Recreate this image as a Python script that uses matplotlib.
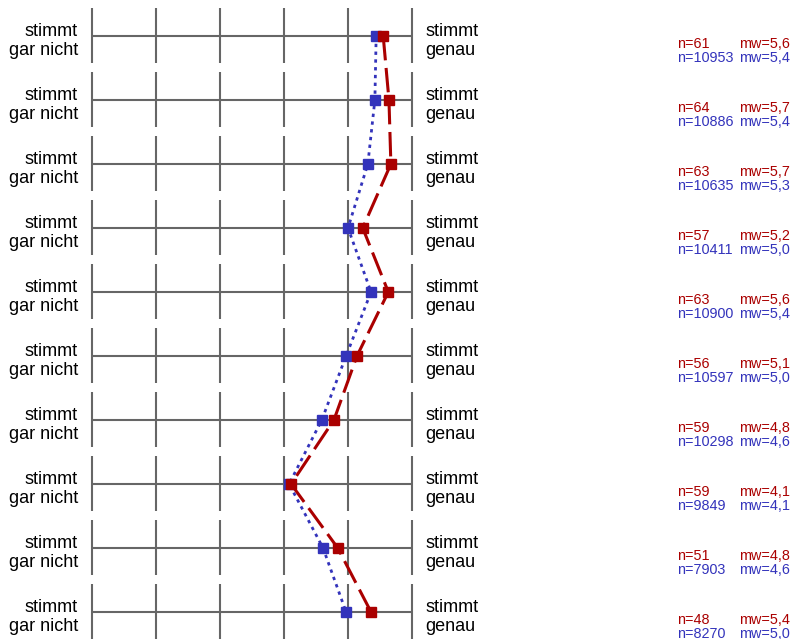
import matplotlib.pyplot as plt

# Werte (Skala 1..6)
mw_gruppe = [5.55, 5.64, 5.67, 5.23, 5.63, 5.14, 4.78, 4.11, 4.84, 5.36]
mw_alle = [5.44, 5.42, 5.31, 5.00, 5.36, 4.97, 4.59, 4.08, 4.61, 4.97]
n_gruppe = ['61', '64', '63', '57', '63', '56', '59', '59', '51', '48']
n_alle = ['10953', '10886', '10635', '10411', '10900', '10597', '10298', '9849', '7903', '8270']
mw_txt_gruppe = ['5,6', '5,7', '5,7', '5,2', '5,6', '5,1', '4,8', '4,1', '4,8', '5,4']
mw_txt_alle = ['5,4', '5,4', '5,3', '5,0', '5,4', '5,0', '4,6', '4,1', '4,6', '5,0']
links = ['stimmt', 'gar nicht']
rechts = ['stimmt', 'genau']

rot = '#aa0000'
blau = '#3333bb'
grau = '#666666'

plt.rcParams['font.family'] = ['Liberation Sans', 'DejaVu Sans']

W, H = 795, 639
fig = plt.figure(figsize=(W / 100, H / 100), dpi=100)
ax = fig.add_axes([92 / W, 0, 320 / W, 1])
ax.set_xlim(1, 6)
ax.set_ylim((H - 36) / 64, -36 / 64)
ax.axis('off')

px = 1 / 64  # ein Pixel in Datenkoordinaten
rows = list(range(len(mw_gruppe)))
for i in rows:
    ax.hlines(i, 1, 6, color=grau, lw=1.5, clip_on=False)
    ax.vlines(range(1, 7), i - 28 * px, i + 27 * px, color=grau, lw=1.5, clip_on=False)
    for k, (l, r) in enumerate(zip(links, rechts)):
        y = i + (0.5 + 18.5 * k) * px
        ax.text(1 - 14 * px, y, l, ha='right', va='baseline', fontsize=13, clip_on=False)
        ax.text(6 + 13 * px, y, r, ha='left', va='baseline', fontsize=13, clip_on=False)
    ax.text(1 + 585 * px, i + 11.5 * px, 'n=' + n_gruppe[i], color=rot,
            va='baseline', fontsize=10.4, clip_on=False)
    ax.text(1 + 647 * px, i + 11.5 * px, 'mw=' + mw_txt_gruppe[i], color=rot,
            va='baseline', fontsize=10.4, clip_on=False)
    ax.text(1 + 585 * px, i + 26.5 * px, 'n=' + n_alle[i], color=blau,
            va='baseline', fontsize=10.4, clip_on=False)
    ax.text(1 + 647 * px, i + 26.5 * px, 'mw=' + mw_txt_alle[i], color=blau,
            va='baseline', fontsize=10.4, clip_on=False)

ax.plot(mw_alle, rows, color=blau, lw=2, dashes=(1.2, 1.6), clip_on=False)
ax.plot(mw_gruppe, rows, color=rot, lw=2.2, dashes=(8, 2.5), clip_on=False)
ax.plot(mw_alle, rows, 's', color=blau, ms=6.5, clip_on=False)
ax.plot(mw_gruppe, rows, 's', color=rot, ms=6.5, clip_on=False)

fig.savefig('out.png', dpi=100)
